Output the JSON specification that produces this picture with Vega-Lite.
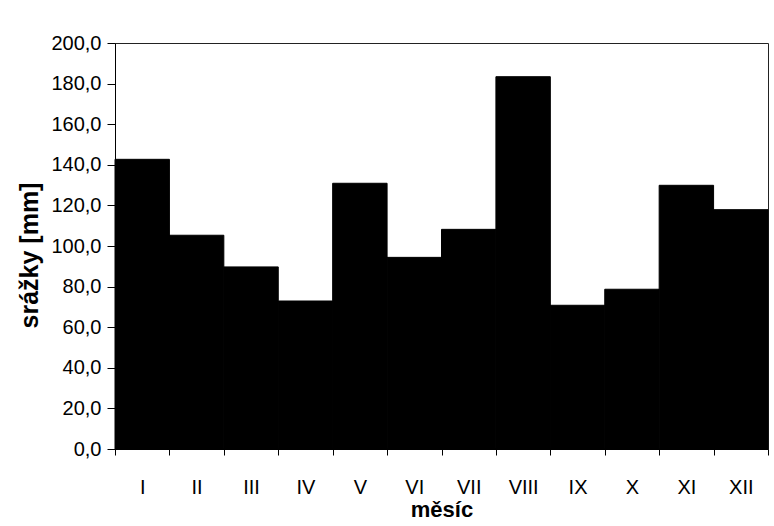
{
  "$schema": "https://vega.github.io/schema/vega-lite/v6.json",
  "width": 653,
  "height": 406,
  "autosize": {"type": "none"},
  "padding": {"left": 115, "top": 43, "right": 6, "bottom": 77},
  "background": "white",
  "config": {
    "font": "Liberation Sans",
    "view": {"stroke": "#222", "strokeWidth": 1}
  },
  "data": {
    "values": [
      {"mesic": "I", "srazky": 142.7},
      {"mesic": "II", "srazky": 105.3},
      {"mesic": "III", "srazky": 89.7},
      {"mesic": "IV", "srazky": 72.9},
      {"mesic": "V", "srazky": 130.9},
      {"mesic": "VI", "srazky": 94.4},
      {"mesic": "VII", "srazky": 108.2},
      {"mesic": "VIII", "srazky": 183.4},
      {"mesic": "IX", "srazky": 70.8},
      {"mesic": "X", "srazky": 78.7},
      {"mesic": "XI", "srazky": 129.9},
      {"mesic": "XII", "srazky": 117.9}
    ]
  },
  "mark": {"type": "bar", "color": "black", "stroke": "black", "strokeWidth": 1},
  "encoding": {
    "x": {
      "field": "mesic",
      "type": "nominal",
      "sort": null,
      "scale": {"paddingInner": 0, "paddingOuter": 0},
      "axis": {
        "title": "měsíc",
        "titleFont": "Liberation Sans",
        "titleFontSize": 22,
        "titleFontWeight": "bold",
        "titleColor": "black",
        "titlePadding": 2,
        "labelAngle": 0,
        "labelFontSize": 20,
        "labelColor": "black",
        "labelPadding": 22,
        "tickBand": "extent",
        "tickSize": 6,
        "tickColor": "black",
        "domainColor": "black",
        "grid": false
      }
    },
    "y": {
      "field": "srazky",
      "type": "quantitative",
      "scale": {"domain": [0, 200], "nice": false},
      "axis": {
        "title": "srážky [mm]",
        "titleFontSize": 25,
        "titleFontWeight": "bold",
        "titleColor": "black",
        "titlePadding": 8,
        "titleY": 212,
        "values": [0, 20, 40, 60, 80, 100, 120, 140, 160, 180, 200],
        "labelExpr": "replace(format(datum.value, '.1f'), '.', ',')",
        "labelFontSize": 20,
        "labelColor": "black",
        "labelPadding": 6,
        "tickSize": 8,
        "tickColor": "black",
        "domainColor": "black",
        "grid": false
      }
    }
  }
}
